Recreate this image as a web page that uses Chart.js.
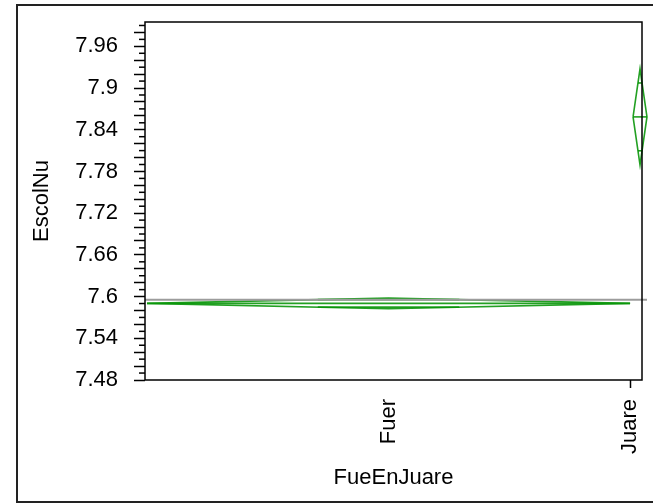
<!DOCTYPE html>
<html>
<head>
<meta charset="utf-8">
<script src="https://cdn.jsdelivr.net/npm/chart.js@4.4.1/dist/chart.umd.min.js"></script>
<style>
  html, body { margin: 0; padding: 0; background: #fff; }
  #wrap { width: 653px; height: 504px; }
</style>
</head>
<body>
<div id="wrap"><canvas id="chart"></canvas></div>
<script>
// means diamonds, EscolNu by FueEnJuare
var groupNames = ["Fuer", "Juare"];
var groupMeans = [7.5902, 7.8585];
var groupLower = [7.5826, 7.7895];   // lower 95%
var groupUpper = [7.5978, 7.9275];   // upper 95%
var groupStart = [4, 982];           // diamond extent on the x axis (width ~ n)
var groupEnd   = [976, 1010];
var grandMean = 7.5953;

var xTickValues = [490, 976];
var yTickLabels = [7.48, 7.54, 7.6, 7.66, 7.72, 7.78, 7.84, 7.9, 7.96];

var fontFamily = "'Liberation Sans', Arial, sans-serif";
var green = "rgba(10,150,10,0.9)";

/* build the line datasets for each diamond */
var datasets = [];
datasets.push({
    data: [{x: 0, y: grandMean}, {x: groupEnd[1], y: grandMean}],
    borderColor: "#9c9c9c",
    borderWidth: 2,
    clip: false
});

for (var i = 0; i < groupNames.length; i++) {
    var a = groupStart[i], b = groupEnd[i], c = (a + b) / 2;
    var m = groupMeans[i], lo = groupLower[i], hi = groupUpper[i];

    // diamond outline
    datasets.push({
        data: [{x: a, y: m}, {x: c, y: hi}, {x: b, y: m}, {x: c, y: lo}, {x: a, y: m}],
        borderColor: green, borderWidth: 1.6, clip: false
    });
    // mean line
    datasets.push({
        data: [{x: a, y: m}, {x: b, y: m}],
        borderColor: green, borderWidth: 1.6, clip: false
    });
    // overlap marks
    var k = 1 / Math.SQRT2;
    var w = (b - a) / 2 * (1 - k);
    datasets.push({
        data: [{x: c - w, y: m + (hi - m) * k}, {x: c + w, y: m + (hi - m) * k}],
        borderColor: green, borderWidth: 1.6, clip: false
    });
    datasets.push({
        data: [{x: c - w, y: m - (m - lo) * k}, {x: c + w, y: m - (m - lo) * k}],
        borderColor: green, borderWidth: 1.6, clip: false
    });
}

datasets.forEach(function (d) {
    d.showLine = true;
    d.pointRadius = 0;
    d.fill = false;
});

/* plot box, short minor ticks and the outer frame */
const framePlugin = {
    id: "frame",
    afterDraw(chart) {
        var ctx = chart.ctx, area = chart.chartArea, y = chart.scales.y;
        ctx.save();
        ctx.strokeStyle = "#000";
        ctx.lineWidth = 1.5;
        y.ticks.forEach(function (t) {
            if (Math.round(t.value * 100) % 2 !== 0) {
                var py = y.getPixelForValue(t.value);
                ctx.beginPath();
                ctx.moveTo(area.left - 6, py);
                ctx.lineTo(area.left, py);
                ctx.stroke();
            }
        });
        ctx.strokeRect(area.left, area.top, area.right - area.left, area.bottom - area.top);
        ctx.strokeStyle = "#222";
        ctx.lineWidth = 2;
        ctx.strokeRect(17, 5, 700, 497);
        ctx.restore();
    }
};

new Chart("chart", {
    type: "scatter",
    data: { datasets: datasets },
    plugins: [framePlugin],
    options: {
        responsive: true,
        maintainAspectRatio: false,
        animation: false,
        layout: { padding: { top: 22, right: 11, bottom: 0, left: 0 } },
        plugins: {
            legend: { display: false },
            tooltip: { enabled: false }
        },
        elements: { line: { tension: 0 } },
        scales: {
            x: {
                type: "linear",
                min: 0,
                max: 1000,
                afterBuildTicks: function (s) {
                    s.ticks = xTickValues.map(function (v) { return {value: v}; });
                },
                afterFit: function (s) {
                    s.height = 124;
                    s.paddingLeft = 0;
                    s.paddingRight = 0;
                },
                border: { display: false },
                grid: {
                    drawOnChartArea: false,
                    tickLength: 8,
                    tickWidth: 1.5,
                    tickColor: function (ctx) { return ctx.index === 0 ? "rgba(0,0,0,0)" : "#000"; }
                },
                ticks: {
                    autoSkip: false,
                    minRotation: 90,
                    maxRotation: 90,
                    padding: 11,
                    color: "#000",
                    font: { family: fontFamily, size: 22 },
                    callback: function (v, idx) { return groupNames[idx]; }
                },
                title: {
                    display: true,
                    text: "FueEnJuare",
                    color: "#000",
                    font: { family: fontFamily, size: 22 },
                    padding: { top: 0, bottom: 13 }
                }
            },
            y: {
                min: 7.48,
                max: 7.995,
                afterBuildTicks: function (s) {
                    var t = [];
                    for (var v = 748; v <= 799; v++) t.push({value: v / 100});
                    s.ticks = t;
                },
                afterFit: function (s) {
                    s.width = 145;
                    s.paddingTop = 0;
                    s.paddingBottom = 0;
                },
                border: { display: false },
                grid: {
                    drawOnChartArea: false,
                    tickLength: 11,
                    tickWidth: 1.5,
                    tickColor: function (ctx) {
                        return Math.round(ctx.tick.value * 100) % 2 === 0 ? "#000" : "rgba(0,0,0,0)";
                    }
                },
                ticks: {
                    autoSkip: false,
                    padding: 16,
                    color: "#000",
                    font: { family: fontFamily, size: 22 },
                    callback: function (v) {
                        var r = +v.toFixed(2);
                        return yTickLabels.indexOf(r) >= 0 ? String(r) : "";
                    }
                },
                title: {
                    display: true,
                    text: "EscolNu",
                    color: "#000",
                    font: { family: fontFamily, size: 22 },
                    padding: { top: 29, bottom: 0 }
                }
            }
        }
    }
});
</script>
</body>
</html>
